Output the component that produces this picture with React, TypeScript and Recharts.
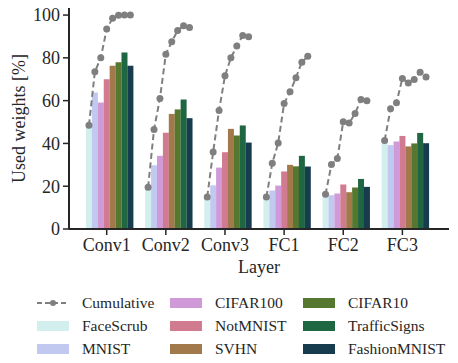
import { ComposedChart, Bar, Line, Cell, XAxis, YAxis, Legend, Label } from 'recharts';

const layers = ['Conv1', 'Conv2', 'Conv3', 'FC1', 'FC2', 'FC3'];
const datasets = ['FaceScrub', 'MNIST', 'CIFAR100', 'NotMNIST', 'SVHN', 'CIFAR10', 'TrafficSigns', 'FashionMNIST'];
const colors = ['#d2eeed', '#c1c9f0', '#d09ad9', '#d17b90', '#a2794b', '#55772f', '#1f6742', '#173c4d'];

// used weights [%] per layer, in dataset order
const conv1Used = [48.5, 63.8, 59.1, 70.0, 76.3, 77.9, 82.5, 76.3];
const conv2Used = [19.5, 29.8, 34.2, 45.0, 53.8, 55.9, 60.5, 51.8];
const conv3Used = [15.0, 20.4, 28.7, 35.9, 46.8, 43.7, 48.4, 40.4];
const fc1Used = [15.0, 18.0, 20.3, 26.9, 30.0, 29.3, 34.2, 29.2];
const fc2Used = [16.2, 15.8, 16.6, 20.8, 17.2, 19.4, 23.4, 19.7];
const fc3Used = [41.4, 39.2, 40.9, 43.5, 38.6, 40.0, 44.9, 40.1];

// cumulative used weights after each task
const conv1Cum = [48.5, 73.5, 80.0, 93.5, 98.5, 99.9, 100, 100];
const conv2Cum = [19.5, 46.5, 61.0, 81.7, 87.5, 92.8, 95.0, 94.2];
const conv3Cum = [15.0, 36.0, 55.4, 71.6, 80.0, 85.5, 90.5, 89.9];
const fc1Cum = [15.0, 30.7, 40.2, 58.7, 64.1, 70.7, 78.0, 80.7];
const fc2Cum = [16.2, 30.1, 32.9, 50.1, 49.5, 54.0, 60.5, 59.9];
const fc3Cum = [41.4, 56.2, 59.0, 70.4, 68.3, 69.9, 73.3, 71.0];

const yTicks = [0, 20, 40, 60, 80, 100];

const usedByLayer = [conv1Used, conv2Used, conv3Used, fc1Used, fc2Used, fc3Used];
const cumByLayer = [conv1Cum, conv2Cum, conv3Cum, fc1Cum, fc2Cum, fc3Cum];

const ink = '#262626';
const grey = '#7f7f7f';
const font = '"Liberation Serif", "Times New Roman", serif';

type Row = { key: string; dataset: number; used: number | null; cum: number | null; label: string };

// one row per bar, two empty rows between layer groups
const rows: Row[] = [];
layers.forEach((layer, i) => {
  datasets.forEach((_, k) => {
    rows.push({ key: `${layer}-${k}`, dataset: k, used: usedByLayer[i][k], cum: cumByLayer[i][k], label: k === 3 ? layer : '' });
  });
  if (i < layers.length - 1) {
    rows.push({ key: `gap${i}a`, dataset: -1, used: null, cum: null, label: '' });
    rows.push({ key: `gap${i}b`, dataset: -1, used: null, cum: null, label: '' });
  }
});

const LayerTick = (props: any) => {
  const { x, y, payload } = props;
  const row = rows.find((r) => r.key === payload.value);
  if (!row || !row.label) return <g />;
  return (
    <g>
      <line x1={x} x2={x} y1={y} y2={y + 6} stroke={ink} strokeWidth={1.5} />
      <text x={x} y={y + 22} textAnchor="middle" fill={ink} fontSize={18} fontFamily={font}>
        {row.label}
      </text>
    </g>
  );
};

const legendItems = ['Cumulative', ...datasets];

const LegendBox = () => (
  <div style={{ position: 'relative', width: 458, height: 70, fontFamily: font, fontSize: 15.5, color: ink }}>
    {legendItems.map((name, j) => {
      const col = Math.floor(j / 3);
      const row = j % 3;
      return (
        <div
          key={name}
          style={{
            position: 'absolute',
            left: 37 + col * 133,
            top: 3 + row * 23,
            height: 20,
            display: 'flex',
            alignItems: 'center',
            whiteSpace: 'nowrap',
          }}
        >
          {j === 0 ? (
            <svg width={32} height={10} style={{ marginRight: 13 }}>
              <line x1={0} x2={32} y1={5} y2={5} stroke={grey} strokeWidth={2} strokeDasharray="5 3" />
              <circle cx={16} cy={5} r={3} fill={grey} />
            </svg>
          ) : (
            <div style={{ width: 32, height: 10, background: colors[j - 1], marginRight: 13 }} />
          )}
          <span>{name}</span>
        </div>
      );
    })}
  </div>
);

export default function App() {
  return (
    <div style={{ position: 'absolute', left: 0, top: 0, width: 458, height: 363, background: '#fff' }}>
      <ComposedChart
        width={458}
        height={363}
        data={rows}
        margin={{ top: 8, right: 9, bottom: 90, left: 19 }}
        barCategoryGap={0}
        barGap={0}
      >
        <XAxis
          dataKey="key"
          type="category"
          interval={0}
          height={44}
          padding={{ left: 17, right: 20 }}
          tickLine={false}
          tickSize={0}
          tickMargin={0}
          tick={<LayerTick />}
          axisLine={{ stroke: ink, strokeWidth: 2 }}
        >
          <Label value="Layer" position="insideBottom" offset={0} fill={ink} fontSize={18} fontFamily={font} />
        </XAxis>
        <YAxis
          width={50}
          domain={[0, 103.3]}
          ticks={yTicks}
          interval={0}
          tickSize={6}
          tickMargin={3}
          axisLine={{ stroke: ink, strokeWidth: 2 }}
          tickLine={{ stroke: ink, strokeWidth: 1.5 }}
          tick={{ fill: ink, fontSize: 18, fontFamily: font }}
        >
          <Label
            content={() => (
              <text x={25} y={118.5} transform="rotate(-90 25 118.5)" textAnchor="middle" fill={ink} fontSize={18} fontFamily={font}>
                Used weights [%]
              </text>
            )}
          />
        </YAxis>
        <Bar dataKey="used" isAnimationActive={false}>
          {rows.map((r) => (
            <Cell key={r.key} fill={r.dataset >= 0 ? colors[r.dataset] : 'transparent'} />
          ))}
        </Bar>
        <Line
          dataKey="cum"
          type="linear"
          stroke={grey}
          strokeWidth={2}
          strokeDasharray="6 3.5"
          connectNulls={false}
          dot={{ r: 3.5, fill: grey, stroke: grey, strokeWidth: 0, strokeDasharray: '' }}
          activeDot={false}
          isAnimationActive={false}
        />
        <Legend
          layout="horizontal"
          verticalAlign="middle"
          align="center"
          wrapperStyle={{ left: 0, top: 290, width: 458, height: 70 }}
          content={() => <LegendBox />}
        />
      </ComposedChart>
    </div>
  );
}
